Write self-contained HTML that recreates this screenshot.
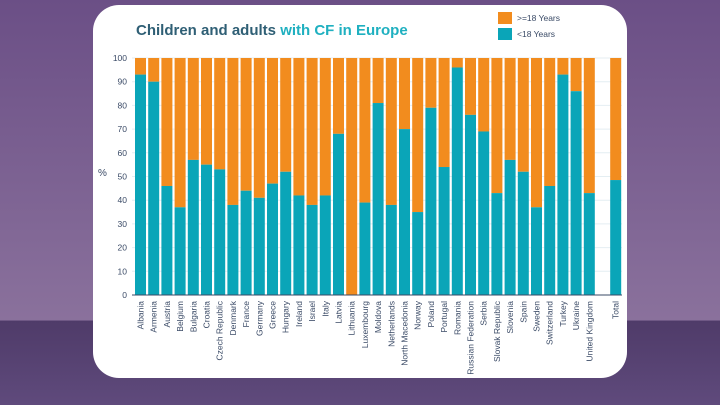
<!DOCTYPE html>
<html><head><meta charset="utf-8"><style>
body{margin:0;width:720px;height:405px;overflow:hidden;background:linear-gradient(180deg,#6b4f86 0%,#8a719c 79%,#4f3b69 79.3%,#5f4a7c 100%);font-family:"Liberation Sans",sans-serif;}
#card{position:absolute;left:93px;top:5px;width:534px;height:373px;background:#fff;border-radius:26px;}
</style></head><body>
<div id="card"></div>
<svg id="chart" width="720" height="405" style="position:absolute;left:0;top:0">
<text x="136" y="35" font-size="15" font-weight="bold" fill="#2f5f75">Children and adults <tspan fill="#1fb0c0">with CF in Europe</tspan></text>
<rect x="498" y="12" width="14" height="12" fill="#f28c1e"/>
<text x="517" y="21" font-size="8.5" fill="#3a4a66">&gt;=18 Years</text>
<rect x="498" y="28" width="14" height="12" fill="#0aa5b8"/>
<text x="517" y="37" font-size="8.5" fill="#3a4a66">&lt;18 Years</text>
<text x="98" y="176" font-size="10" fill="#3a4a66">%</text>
<g id="g"></g>
</svg>
<script>
const categories=["Albania","Armenia","Austria","Belgium","Bulgaria","Croatia","Czech Republic","Denmark","France","Germany","Greece","Hungary","Ireland","Israel","Italy","Latvia","Lithuania","Luxembourg","Moldova","Netherlands","North Macedonia","Norway","Poland","Portugal","Romania","Russian Federation","Serbia","Slovak Republic","Slovenia","Spain","Sweden","Switzerland","Turkey","Ukraine","United Kingdom","","Total"];
const childValues=[93,90,46,37,57,55,53,38,44,41,47,52,42,38,42,68,0,39,81,38,70,35,79,54,96,76,69,43,57,52,37,46,93,86,43,null,48.5];
const yTicks=[0,10,20,30,40,50,60,70,80,90,100];
const NS="http://www.w3.org/2000/svg",g=document.getElementById('g');
const y0=295,y100=58,x0=135,pitch=13.2,bw=11;
const yS=v=>y0-(v/100)*(y0-y100);
const xS=i=>x0+i*pitch;
function mk(t,a){const e=document.createElementNS(NS,t);for(const k in a)e.setAttribute(k,a[k]);g.appendChild(e);return e;}
yTicks.forEach(v=>{
 const l=mk('line',{x1:132,x2:622,y1:yS(v),y2:yS(v),stroke:'#e4eef2','stroke-width':1});
 
 
 const t=mk('text',{x:127,y:yS(v)+3,'font-size':8.5,fill:'#3a4a66','text-anchor':'end'});t.textContent=v;
 
 
});
categories.forEach((c,i)=>{
 const v=childValues[i];const x=xS(i);
 if(v!==null){
  const a=mk('rect',{x:x,y:yS(100),width:bw,height:yS(v)-yS(100),fill:'#f28c1e'});
  
  
  const b=mk('rect',{x:x,y:yS(v),width:bw,height:y0-yS(v),fill:'#0aa5b8'});
  
  
 }
 if(c){const t=mk('text',{transform:`translate(${x+bw/2+3},301) rotate(-90)`,'font-size':8.5,fill:'#3a4a66','text-anchor':'end'});t.textContent=c;
 
 }
});
mk('line',{x1:132,x2:622,y1:y0,y2:y0,stroke:'#3a4a66','stroke-width':1});
</script>
</body></html>
